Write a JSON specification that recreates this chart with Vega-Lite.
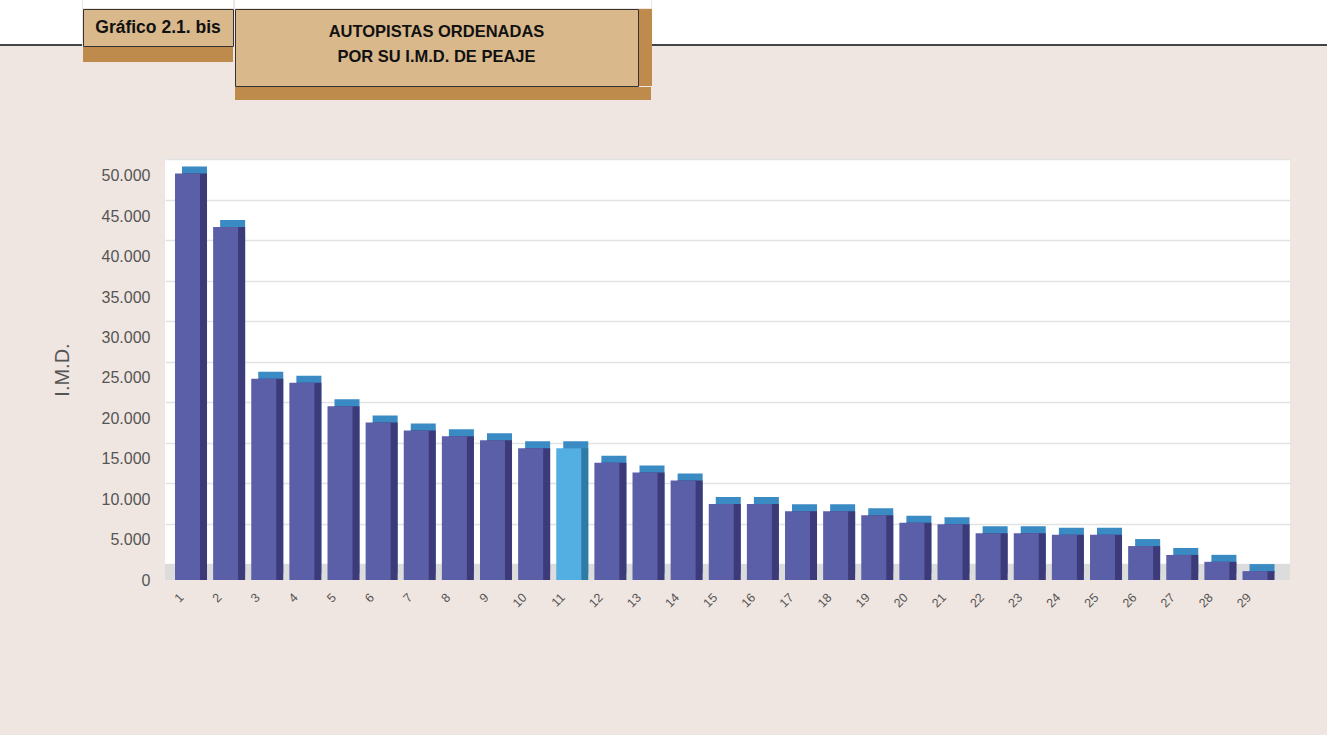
{
  "$schema": "https://vega.github.io/schema/vega-lite/v6.json",
  "background": "#F0E6E1",
  "padding": {"left": 0, "top": 0, "right": 0, "bottom": 125},
  "config": {
    "view": {"stroke": null},
    "font": "Liberation Sans",
    "axis": {"labelFont": "Liberation Sans", "titleFont": "Liberation Sans"}
  },
  "spacing": 59,
  "vconcat": [
    {
      "spacing": 0,
      "hconcat": [
        {
          "spacing": 0,
          "vconcat": [
            {"width": 82, "height": 44, "view": {"fill": "#FFFFFF", "stroke": null}, "data": {"values": []}, "mark": "point", "encoding": {}},
            {"width": 82, "height": 2, "view": {"fill": "#444444", "stroke": null}, "data": {"values": []}, "mark": "point", "encoding": {}}
          ]
        },
        {
          "spacing": 0,
          "vconcat": [
            {"width": 150, "height": 8, "view": {"fill": "#FFFFFF", "stroke": null}, "data": {"values": []}, "mark": "point", "encoding": {}},
            {
              "width": 150, "height": 37,
              "view": {"fill": "#D9B88C", "stroke": "#333333", "strokeWidth": 1},
              "data": {"values": [{}]},
              "mark": {"type": "text", "text": "Gráfico 2.1. bis", "fontWeight": "bold", "fontSize": 17.5, "dy": 0, "color": "#111111"},
              "encoding": {}
            },
            {"width": 150, "height": 15, "view": {"fill": "#BF8B4C", "stroke": null}, "data": {"values": []}, "mark": "point", "encoding": {}}
          ]
        },
        {
          "spacing": 0,
          "vconcat": [
            {"width": 416, "height": 8, "view": {"fill": "#FFFFFF", "stroke": null}, "data": {"values": []}, "mark": "point", "encoding": {}},
            {
              "spacing": 0,
              "hconcat": [
                {
                  "width": 403, "height": 77,
                  "view": {"fill": "#D9B88C", "stroke": "#333333", "strokeWidth": 1},
                  "data": {"values": [{}]},
                  "mark": {"type": "text", "text": ["AUTOPISTAS ORDENADAS", "POR SU I.M.D. DE PEAJE"], "lineHeight": 25, "fontWeight": "bold", "fontSize": 16.5, "dy": -16, "color": "#111111"},
                  "encoding": {}
                },
                {"width": 13, "height": 77, "view": {"fill": "#BF8B4C", "stroke": null}, "data": {"values": []}, "mark": "point", "encoding": {}}
              ]
            },
            {"width": 416, "height": 13, "view": {"fill": "#BF8B4C", "stroke": null}, "data": {"values": []}, "mark": "point", "encoding": {}}
          ]
        },
        {
          "spacing": 0,
          "vconcat": [
            {"width": 679, "height": 44, "view": {"fill": "#FFFFFF", "stroke": null}, "data": {"values": []}, "mark": "point", "encoding": {}},
            {"width": 677, "height": 2, "view": {"fill": "#444444", "stroke": null}, "data": {"values": []}, "mark": "point", "encoding": {}}
          ]
        }
      ]
    },
    {
      "spacing": 0,
      "hconcat": [
        {
          "width": 52, "height": 10,
          "data": {"values": []},
          "mark": "point",
          "encoding": {}
        },
        {
          "width": 1125, "height": 421,
          "view": {"fill": "#FFFFFF", "stroke": null},
          "data": {"values": [
            {"n": 1, "imd": 50300}, {"n": 2, "imd": 43700}, {"n": 3, "imd": 24900},
            {"n": 4, "imd": 24400}, {"n": 5, "imd": 21500}, {"n": 6, "imd": 19500},
            {"n": 7, "imd": 18500}, {"n": 8, "imd": 17800}, {"n": 9, "imd": 17300},
            {"n": 10, "imd": 16300}, {"n": 11, "imd": 16300}, {"n": 12, "imd": 14500},
            {"n": 13, "imd": 13300}, {"n": 14, "imd": 12300}, {"n": 15, "imd": 9400},
            {"n": 16, "imd": 9400}, {"n": 17, "imd": 8500}, {"n": 18, "imd": 8500},
            {"n": 19, "imd": 8000}, {"n": 20, "imd": 7100}, {"n": 21, "imd": 6900},
            {"n": 22, "imd": 5800}, {"n": 23, "imd": 5800}, {"n": 24, "imd": 5600},
            {"n": 25, "imd": 5600}, {"n": 26, "imd": 4200}, {"n": 27, "imd": 3100},
            {"n": 28, "imd": 2250}, {"n": 29, "imd": 1100}
          ]},
          "layer": [
            {
              "data": {"values": [{}]},
              "mark": {"type": "rect", "color": "#DCDCDC"},
              "encoding": {
                "y": {
                  "datum": -1975, "type": "quantitative",
                  "scale": {"domain": [-1975, 50000], "nice": false, "zero": false},
                  "axis": {
                    "orient": "right", "title": null,
                    "values": [0, 5000, 10000, 15000, 20000, 25000, 30000, 35000, 40000, 45000, 50000],
                    "grid": true, "gridColor": "#E2E2E2", "gridWidth": 1.5,
                    "labels": false, "ticks": false, "domain": false
                  }
                },
                "y2": {"datum": 0}
              }
            },
            {
              "encoding": {
                "x": {
                  "field": "n", "type": "ordinal",
                  "scale": {"paddingInner": 0.344, "paddingOuter": 0.426, "align": 0.308},
                  "axis": {
                    "title": null, "labelAngle": -45, "labelAlign": "right", "labelBaseline": "middle",
                    "labelFontSize": 12.5, "labelColor": "#555555", "labelPadding": 15, "labelOffset": -6,
                    "ticks": false, "domain": false, "grid": false
                  }
                },
                "y": {
                  "field": "imd", "type": "quantitative",
                  "scale": {"domain": [0, 52100], "nice": false},
                  "axis": {
                    "orient": "left", "title": "I.M.D.",
                    "values": [0, 5000, 10000, 15000, 20000, 25000, 30000, 35000, 40000, 45000, 50000],
                    "labelExpr": "replace(format(datum.value, ','), ',', '.')",
                    "titleFontSize": 20, "titleFontWeight": "normal", "titleColor": "#555555", "titlePadding": 29,
                    "labelFontSize": 16, "labelColor": "#555555", "labelPadding": 15,
                    "ticks": false, "domain": false, "grid": false
                  }
                }
              },
              "layer": [
                {
                  "mark": {"type": "bar", "xOffset": 7, "yOffset": -7, "y2Offset": -7, "color": "#3A8AC3"}
                },
                {
                  "mark": {"type": "bar", "xOffset": 7, "y2Offset": -4},
                  "encoding": {
                    "color": {"condition": {"test": "datum.n === 11", "value": "#2F7BA8"}, "value": "#3C3A79"}
                  }
                },
                {
                  "mark": {"type": "bar"},
                  "encoding": {
                    "color": {"condition": {"test": "datum.n === 11", "value": "#53AFE1"}, "value": "#5B5FA7"}
                  }
                }
              ]
            }
          ],
          "resolve": {"scale": {"y": "independent"}, "axis": {"y": "independent"}}
        }
      ]
    }
  ]
}
